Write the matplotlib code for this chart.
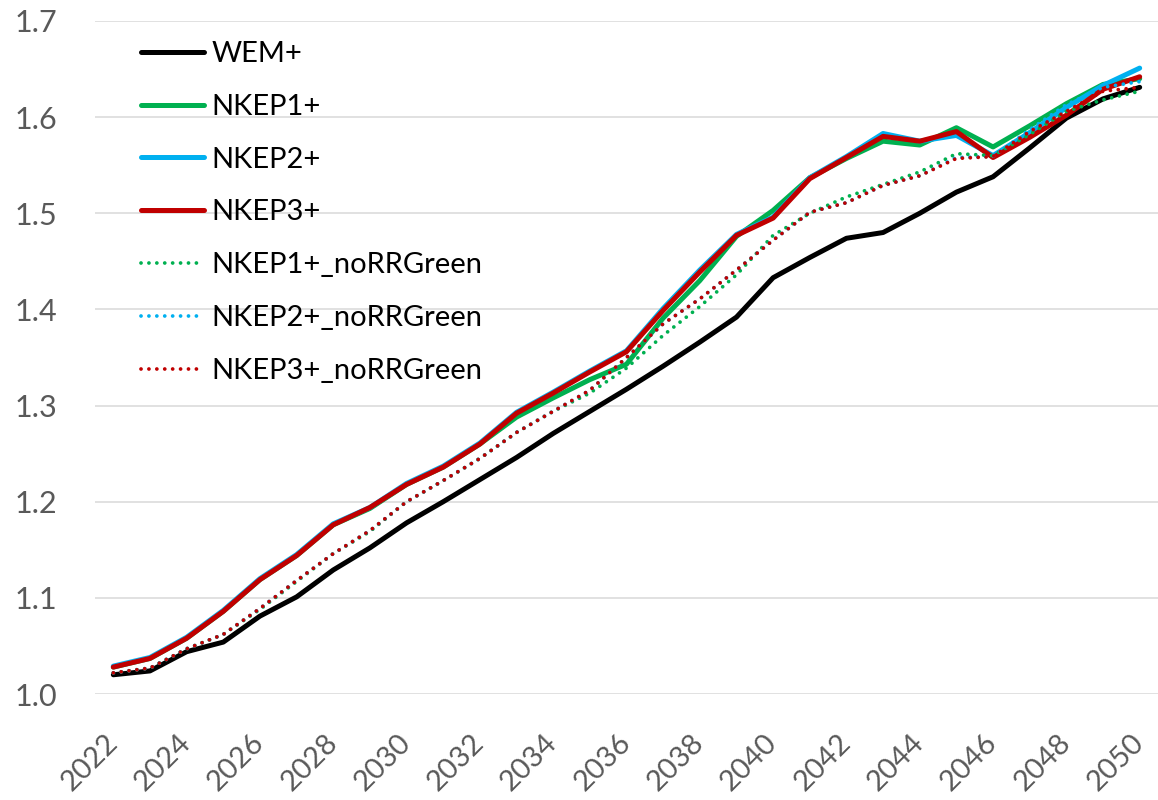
import matplotlib
matplotlib.use('Agg')
import matplotlib.pyplot as plt
import numpy as np

plt.rcParams['font.family'] = ['Lato', 'DejaVu Sans']

years = list(range(2022, 2051))

wem = [1.020, 1.024, 1.044, 1.054, 1.081, 1.101, 1.129, 1.152, 1.178, 1.200,
       1.223, 1.246, 1.271, 1.294, 1.317, 1.341, 1.366, 1.392, 1.433, 1.454,
       1.474, 1.480, 1.500, 1.522, 1.538, 1.568, 1.599, 1.619, 1.631]
nkep1 = [1.028, 1.037, 1.058, 1.086, 1.119, 1.144, 1.176, 1.193, 1.218, 1.236,
         1.260, 1.288, 1.308, 1.327, 1.343, 1.391, 1.430, 1.476, 1.503, 1.537,
         1.557, 1.575, 1.571, 1.589, 1.569, 1.591, 1.614, 1.634, 1.640]
nkep2 = [1.029, 1.038, 1.059, 1.087, 1.120, 1.145, 1.177, 1.194, 1.219, 1.237,
         1.261, 1.293, 1.314, 1.336, 1.357, 1.401, 1.441, 1.478, 1.496, 1.537,
         1.559, 1.583, 1.575, 1.581, 1.560, 1.584, 1.610, 1.633, 1.651]
nkep3 = [1.028, 1.037, 1.058, 1.086, 1.119, 1.144, 1.176, 1.194, 1.218, 1.236,
         1.260, 1.292, 1.313, 1.335, 1.356, 1.399, 1.439, 1.477, 1.495, 1.536,
         1.558, 1.580, 1.575, 1.585, 1.558, 1.579, 1.602, 1.629, 1.642]
nkep1_nog = [1.022, 1.027, 1.047, 1.062, 1.088, 1.117, 1.146, 1.169, 1.200, 1.222,
             1.245, 1.272, 1.294, 1.313, 1.339, 1.373, 1.403, 1.436, 1.477, 1.500,
             1.517, 1.530, 1.543, 1.562, 1.560, 1.582, 1.606, 1.618, 1.627]
nkep2_nog = [1.022, 1.027, 1.047, 1.062, 1.089, 1.118, 1.146, 1.170, 1.200, 1.222,
             1.245, 1.272, 1.294, 1.316, 1.350, 1.385, 1.411, 1.441, 1.472, 1.501,
             1.511, 1.529, 1.539, 1.558, 1.559, 1.587, 1.613, 1.631, 1.637]
nkep3_nog = [1.022, 1.027, 1.047, 1.062, 1.089, 1.118, 1.146, 1.170, 1.200, 1.222,
             1.245, 1.272, 1.294, 1.316, 1.350, 1.385, 1.411, 1.441, 1.472, 1.501,
             1.511, 1.529, 1.539, 1.557, 1.559, 1.585, 1.606, 1.627, 1.631]

solid = [('WEM+', wem, '#000000'),
         ('NKEP1+', nkep1, '#00B050'),
         ('NKEP2+', nkep2, '#00B0F0'),
         ('NKEP3+', nkep3, '#C00000')]
dotted = [('NKEP1+_noRRGreen', nkep1_nog, '#00B050'),
          ('NKEP2+_noRRGreen', nkep2_nog, '#00B0F0'),
          ('NKEP3+_noRRGreen', nkep3_nog, '#C00000')]

fig = plt.figure(figsize=(11.58, 8), dpi=100)
ax = fig.add_axes([95/1158, 106/800, 1063/1158, 673/800])

for name, vals, col in solid:
    ax.plot(years, vals, color=col, lw=3.6, label=name, solid_capstyle='round')
for name, vals, col in dotted:
    ax.plot(years, vals, color=col, lw=2.7, label=name,
            linestyle=(0, (0.01, 2.1)), dash_capstyle='round')

ax.set_xlim(2021.5, 2050.5)
ax.set_ylim(1.0, 1.7)
ax.set_yticks(np.arange(1.0, 1.71, 0.1))
ax.set_yticklabels(['%.1f' % v for v in np.arange(1.0, 1.71, 0.1)])
ax.set_xticks(years[::2])
ax.set_xticklabels([str(y) for y in years[::2]], rotation=45,
                   ha='right', va='center', rotation_mode='anchor')
ax.tick_params(axis='y', length=0, pad=27, labelsize=22, labelcolor='#595959')
ax.tick_params(axis='x', length=0, pad=32, labelsize=21, labelcolor='#595959')
ax.grid(axis='y', color='#D9D9D9', lw=1.1)
ax.set_axisbelow(True)
for s in ax.spines.values():
    s.set_visible(False)

ax.legend(loc='upper left', bbox_to_anchor=(141/1158, 1 - 41/800),
          bbox_transform=fig.transFigure, frameon=False, fontsize=21,
          handlelength=2.15, handletextpad=0.28, labelspacing=0.92,
          borderpad=0, borderaxespad=0)

fig.savefig('out.png', dpi=100)
